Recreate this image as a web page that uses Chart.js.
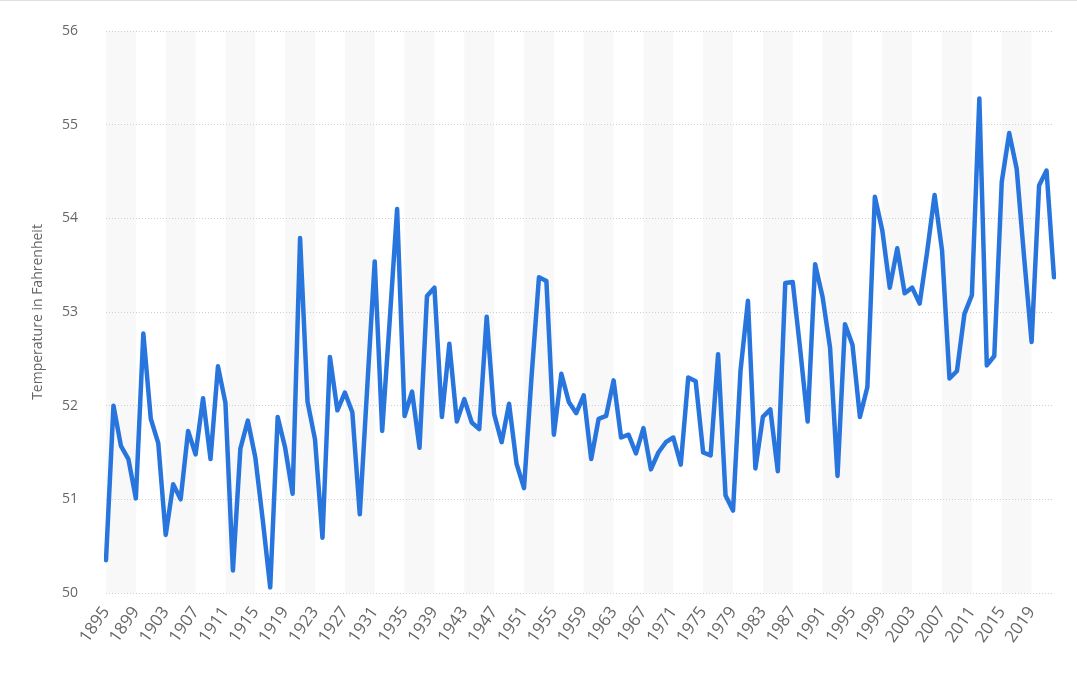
<!DOCTYPE html>
<html>
<head>
<meta charset="utf-8">
<script src="https://cdn.jsdelivr.net/npm/chart.js@4"></script>
<style>
  html, body { margin: 0; padding: 0; background: #fff; }
  #wrap { width: 1077px; height: 678px; border-top: 1px solid #e0e0e0; box-sizing: border-box; }
</style>
</head>
<body>
<div id="wrap"><canvas id="tempChart" width="1077" height="677"></canvas></div>
<script>
const years = [
  "1895","1896","1897","1898","1899","1900","1901","1902","1903","1904",
  "1905","1906","1907","1908","1909","1910","1911","1912","1913","1914",
  "1915","1916","1917","1918","1919","1920","1921","1922","1923","1924",
  "1925","1926","1927","1928","1929","1930","1931","1932","1933","1934",
  "1935","1936","1937","1938","1939","1940","1941","1942","1943","1944",
  "1945","1946","1947","1948","1949","1950","1951","1952","1953","1954",
  "1955","1956","1957","1958","1959","1960","1961","1962","1963","1964",
  "1965","1966","1967","1968","1969","1970","1971","1972","1973","1974",
  "1975","1976","1977","1978","1979","1980","1981","1982","1983","1984",
  "1985","1986","1987","1988","1989","1990","1991","1992","1993","1994",
  "1995","1996","1997","1998","1999","2000","2001","2002","2003","2004",
  "2005","2006","2007","2008","2009","2010","2011","2012","2013","2014",
  "2015","2016","2017","2018","2019","2020","2021","2022"
];

const temps = [
  50.35, 52.0, 51.57, 51.43, 51.01, 52.77, 51.86, 51.6, 50.62, 51.16,
  51.0, 51.73, 51.48, 52.08, 51.43, 52.42, 52.03, 50.24, 51.54, 51.84,
  51.45, 50.78, 50.06, 51.88, 51.55, 51.06, 53.79, 52.04, 51.64, 50.59,
  52.52, 51.95, 52.14, 51.93, 50.84, 52.2, 53.54, 51.73, 52.9, 54.1,
  51.89, 52.15, 51.55, 53.17, 53.26, 51.88, 52.66, 51.83, 52.07, 51.82,
  51.75, 52.95, 51.91, 51.61, 52.02, 51.38, 51.12, 52.3, 53.37, 53.33,
  51.69, 52.34, 52.04, 51.92, 52.11, 51.43, 51.86, 51.89, 52.27, 51.66,
  51.69, 51.49, 51.76, 51.32, 51.5, 51.61, 51.66, 51.37, 52.3, 52.26,
  51.5, 51.47, 52.55, 51.04, 50.88, 52.37, 53.12, 51.33, 51.88, 51.96,
  51.3, 53.31, 53.32, 52.6, 51.83, 53.51, 53.16, 52.62, 51.25, 52.87,
  52.65, 51.88, 52.2, 54.23, 53.87, 53.26, 53.68, 53.2, 53.26, 53.09,
  53.64, 54.25, 53.66, 52.29, 52.37, 52.98, 53.18, 55.28, 52.43, 52.53,
  54.39, 54.91, 54.53, 53.58, 52.68, 54.35, 54.51, 53.37
];

// every 4th year gets a label on the axis
const tickYears = [
  "1895","1899","1903","1907","1911","1915","1919","1923","1927","1931",
  "1935","1939","1943","1947","1951","1955","1959","1963","1967","1971",
  "1975","1979","1983","1987","1991","1995","1999","2003","2007","2011",
  "2015","2019"
];

// light grey stripes between every other pair of labelled years
const stripes = {
  id: "stripes",
  beforeDraw(chart) {
    const { ctx, chartArea, scales } = chart;
    const x = scales.x;
    ctx.save();
    ctx.fillStyle = "#f8f8f8";
    for (let k = 0; k < tickYears.length; k += 2) {
      const i = years.indexOf(tickYears[k]);
      const x0 = x.getPixelForValue(i);
      const x1 = x.getPixelForValue(Math.min(i + 4, years.length - 1));
      ctx.fillRect(x0, chartArea.top, x1 - x0, chartArea.bottom - chartArea.top);
    }
    ctx.restore();
  }
};

Chart.defaults.font.family = "'Open Sans', 'Noto Sans', sans-serif";
Chart.defaults.color = "#666";

const ctx = document.getElementById("tempChart").getContext("2d");
new Chart(ctx, {
  type: "line",
  data: {
    labels: years,
    datasets: [
      {
        label: "Temperature",
        data: temps,
        borderColor: "#2876dd",
        borderWidth: 4.5,
        pointRadius: 0,
        tension: 0,
        borderJoinStyle: "round",
        borderCapStyle: "round",
        fill: false,
      },
    ],
  },
  options: {
    responsive: false,
    animation: false,
    layout: { padding: { left: 20, right: 23, top: 30, bottom: 0 } },
    plugins: {
      legend: { display: false },
      tooltip: { enabled: false },
    },
    scales: {
      x: {
        type: "category",
        offset: false,
        grid: { display: false, drawTicks: false },
        border: { display: false },
        ticks: {
          autoSkip: false,
          maxRotation: 55,
          minRotation: 55,
          padding: 10,
          font: { size: 17 },
          color: "#666",
          callback: function (value, index) {
            const label = years[index];
            return tickYears.includes(label) ? label : null;
          },
        },
        afterFit(scale) {
          scale.height = 85;
        },
      },
      y: {
        min: 50,
        max: 56,
        grid: {
          color: "#cfcfcf",
          lineWidth: 1,
          drawTicks: false,
        },
        border: { display: false, dash: [1, 2] },
        ticks: {
          stepSize: 1,
          padding: 28,
          font: { size: 14 },
          color: "#666",
        },
        title: {
          display: true,
          text: "Temperature in Fahrenheit",
          font: { size: 14 },
          color: "#666",
          padding: { top: 10, bottom: 0 },
        },
        afterFit(scale) {
          scale.width = 86;
          scale.paddingTop = 8;
          scale.paddingBottom = 8;
        },
      },
    },
  },
  plugins: [stripes],
});
</script>
</body>
</html>
